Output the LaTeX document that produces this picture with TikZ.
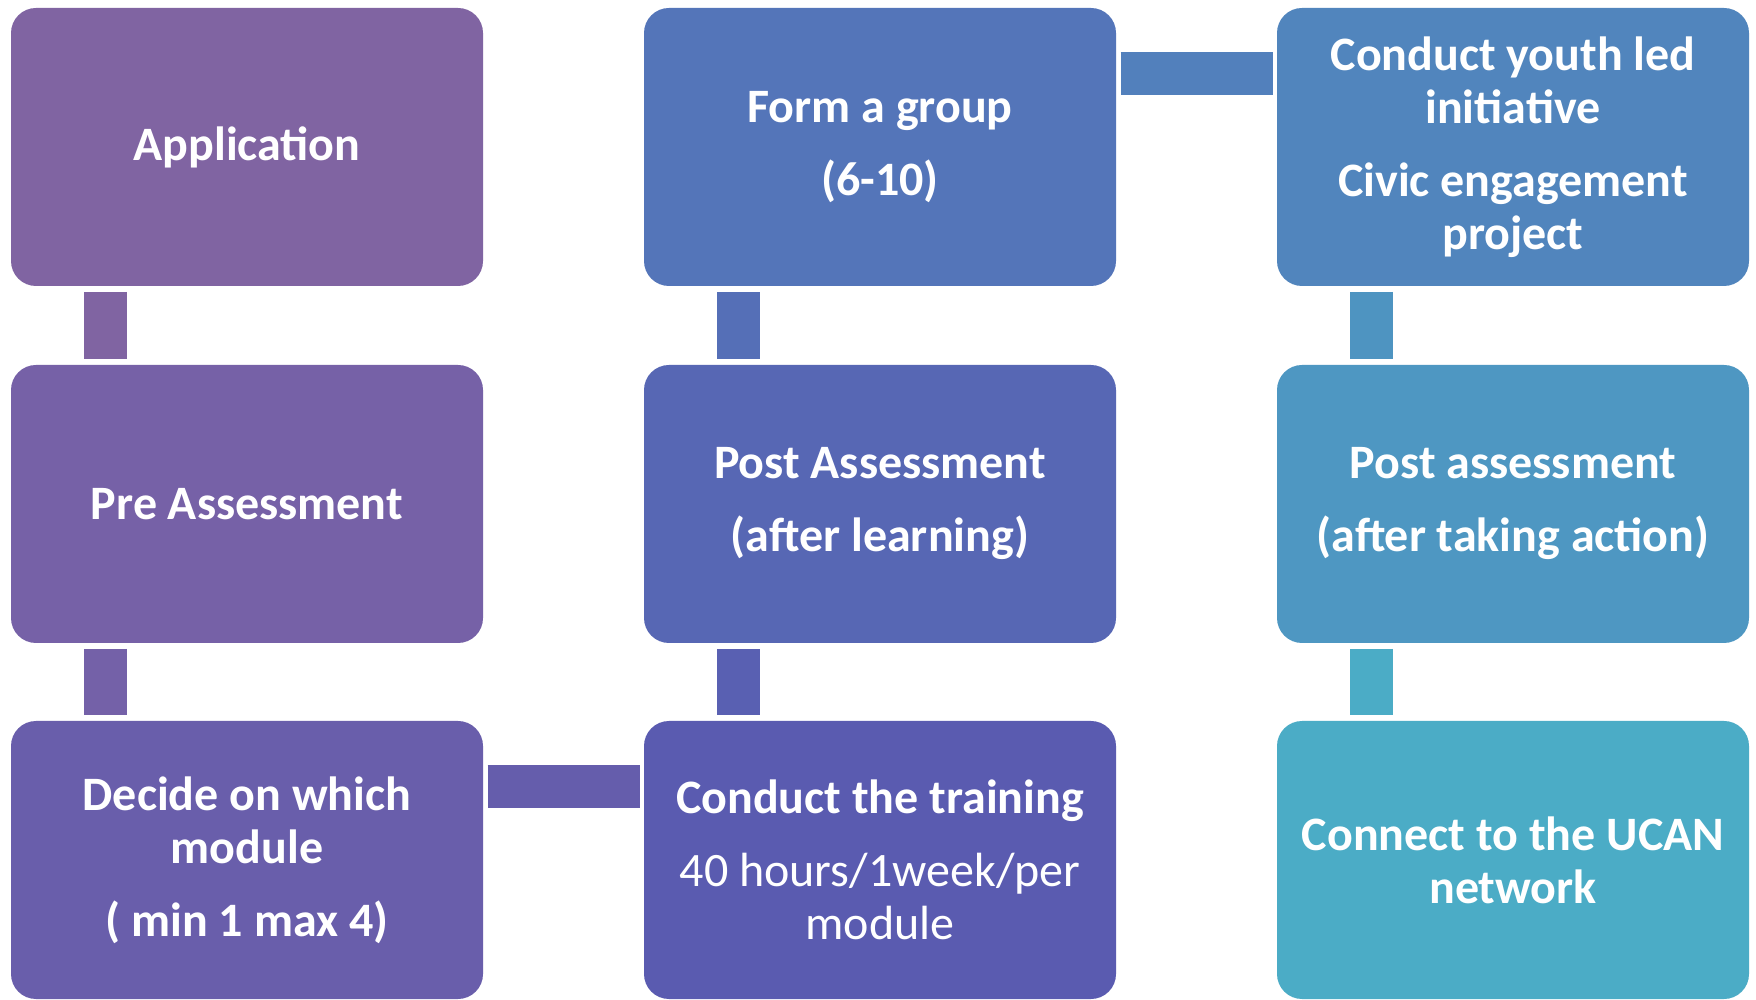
\documentclass[tikz,border=0pt]{standalone}
\usepackage{fontspec}
\setmainfont{Carlito}
\usepackage{tikz}

\begin{document}
\begin{tikzpicture}[x=1pt,y=1pt,
  stepbox/.style={rounded corners=25pt,minimum width=472pt,minimum height=278pt,inner sep=0pt,outer sep=0pt,align=center,text=white,font=\fontsize{48}{53}\selectfont\bfseries},
  bar/.style={line width=43pt,shorten >=6pt,shorten <=6pt},
  hbar/.style={bar,shorten >=4.5pt,shorten <=4.5pt}]
\definecolor{fillColor}{RGB}{255,255,255}
\path[use as bounding box,fill=fillColor] (0,0) rectangle (1756,999);
\definecolor{stepA}{RGB}{128,100,162}
\definecolor{stepB}{RGB}{118,97,167}
\definecolor{stepC}{RGB}{105,94,171}
\definecolor{stepD}{RGB}{90,91,176}
\definecolor{stepE}{RGB}{87,103,180}
\definecolor{stepF}{RGB}{84,117,185}
\definecolor{stepG}{RGB}{81,133,189}
\definecolor{stepH}{RGB}{78,151,194}
\definecolor{stepI}{RGB}{75,172,198}

\node[stepbox,fill=stepA] (app) at (247,852) {Application};

\node[stepbox,fill=stepB] (pre) at (247,495) {Pre Assessment};

\node[stepbox,fill=stepC] (decide) at (247,139) {Decide on which\\module\\[20pt]( min 1 max 4)};

\node[stepbox,fill=stepD] (train) at (880,139) {Conduct the training\\[20pt]\mdseries 40 hours/1week/per\\\mdseries module};

\node[stepbox,fill=stepE] (postl) at (880,495) {Post Assessment\\[20pt](after learning)};

\node[stepbox,fill=stepF] (grp) at (880,852) {Form a group\\[20pt](6-10)};

\node[stepbox,fill=stepG] (youth) at (1513,852) {Conduct youth led\\initiative\\[20pt]Civic engagement\\project};

\node[stepbox,fill=stepH] (posta) at (1513,495) {Post assessment\\[20pt](after taking action)};

\node[stepbox,fill=stepI] (ucan) at (1513,139) {Connect to the UCAN\\network};

\colorlet{linkB}{stepB!86!stepC}
\colorlet{linkC}{stepC!71!stepD}
\colorlet{linkD}{stepD!57!stepE}
\colorlet{linkE}{stepE!43!stepF}
\colorlet{linkF}{stepF!29!stepG}
\colorlet{linkG}{stepG!14!stepH}

\draw[bar,draw=stepA] ([xshift=94pt]app.south west) -- ([xshift=94pt]pre.north west);
\draw[bar,draw=linkB] ([xshift=94pt]pre.south west) -- ([xshift=94pt]decide.north west);
\draw[hbar,draw=linkC] ([yshift=-66pt]decide.north east) -- ([yshift=-66pt]train.north west);
\draw[bar,draw=linkD] ([xshift=94pt]train.north west) -- ([xshift=94pt]postl.south west);
\draw[bar,draw=linkE] ([xshift=94pt]postl.north west) -- ([xshift=94pt]grp.south west);
\draw[hbar,draw=linkF] ([yshift=-66pt]grp.north east) -- ([yshift=-66pt]youth.north west);
\draw[bar,draw=linkG] ([xshift=94pt]youth.south west) -- ([xshift=94pt]posta.north west);
\draw[bar,draw=stepI] ([xshift=94pt]posta.south west) -- ([xshift=94pt]ucan.north west);
\end{tikzpicture}
\end{document}
